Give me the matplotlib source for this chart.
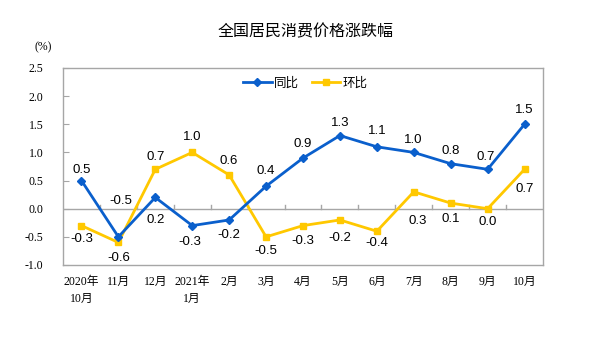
import matplotlib
matplotlib.use("Agg")
import matplotlib.pyplot as plt

# Monthly CPI change (%)
months = ["2020年\n10月", "11月", "12月", "2021年\n1月", "2月", "3月", "4月",
          "5月", "6月", "7月", "8月", "9月", "10月"]
yoy = [0.5, -0.5, 0.2, -0.3, -0.2, 0.4, 0.9, 1.3, 1.1, 1.0, 0.8, 0.7, 1.5]
mom = [-0.3, -0.6, 0.7, 1.0, 0.6, -0.5, -0.3, -0.2, -0.4, 0.3, 0.1, 0.0, 0.7]
yticks = [-1.0, -0.5, 0.0, 0.5, 1.0, 1.5, 2.0, 2.5]

# label offsets in pixels (dx, dy) relative to each point
yoy_off = [(0, 11), (2, 36), (0, -23), (-2, -16), (0, -15), (0, 15), (0, 14),
           (0, 13), (0, 16), (-1, 12), (0, 13), (-2, 12), (0, 14)]
mom_off = [(0, -13), (0, -16), (0, 12), (0, 15), (0, 14), (0, -14), (0, -15),
           (0, -18), (0, -12), (4, -29), (0, -16), (0, -13), (0, -20)]

BLUE = "#0A5FCC"
YELLOW = "#FFC800"
GRID = "#A6A6A6"
SERIF = ["Liberation Serif", "Noto Sans CJK SC"]
SANS = ["Liberation Sans", "DejaVu Sans"]

fig = plt.figure(figsize=(6, 3.4), dpi=100)
ax = fig.add_axes([0.105, 0.2206, 0.80, 0.5794])

x = list(range(len(months)))
ax.plot(x, yoy, color=BLUE, lw=2.0, marker="D", ms=4, label="同比", zorder=4)
ax.plot(x, mom, color=YELLOW, lw=2.0, marker="s", ms=4.5, label="环比", zorder=3)

for xi, v, (dx, dy) in zip(x, yoy, yoy_off):
    ax.annotate(f"{v:.1f}", (xi, v), xytext=(dx, dy), textcoords="offset pixels",
                ha="center", va="center", fontsize=9.5, family=SANS, color="black")
for xi, v, (dx, dy) in zip(x, mom, mom_off):
    ax.annotate(f"{v:.1f}", (xi, v), xytext=(dx, dy), textcoords="offset pixels",
                ha="center", va="center", fontsize=9.5, family=SANS, color="black")

ax.set_xlim(-0.5, len(months) - 0.5)
ax.set_ylim(-1.0, 2.5)
ax.set_yticks(yticks)
ax.set_yticklabels([f"{t:.1f}" for t in yticks], family=SERIF, fontsize=8.5)
ax.set_xticks(x)
ax.set_xticklabels(months, family=SERIF, fontsize=8.5, linespacing=1.5)
ax.tick_params(axis="x", length=0, pad=8)
ax.tick_params(axis="y", direction="in", length=4, color=GRID, pad=14)

for s in ax.spines.values():
    s.set_color(GRID)
    s.set_linewidth(1.0)

# zero line with category-boundary ticks
ax.axhline(0, color=GRID, lw=1.0, zorder=1)
tick_h = 0.07
for b in range(1, len(months)):
    ax.plot([b - 0.5, b - 0.5], [0, tick_h], color=GRID, lw=1.0, zorder=1)

leg = ax.legend(loc="upper center", bbox_to_anchor=(0.505, 1.015), ncol=2, frameon=False,
                prop={"family": ["Noto Sans CJK SC"], "size": 9}, handlelength=2.3,
                columnspacing=1.0, handletextpad=0.2)

fig.text(0.51, 0.905, "全国居民消费价格涨跌幅", ha="center", va="center",
         fontsize=11.5, family=["Noto Sans CJK SC"])
fig.text(0.072, 0.862, "(%)", ha="center", va="center", fontsize=8.5, family=SERIF)

fig.savefig("out.png", dpi=100, facecolor="white")
